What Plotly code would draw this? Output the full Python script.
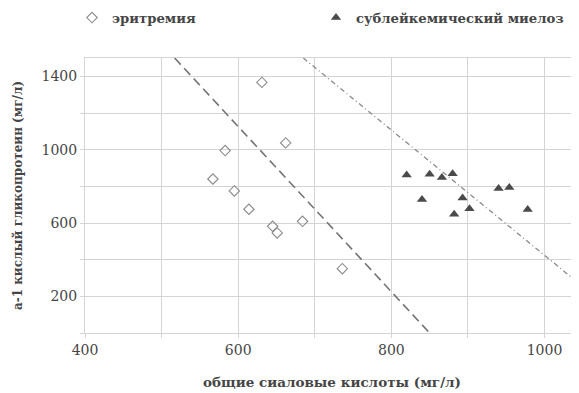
import plotly.graph_objects as go

# эритремия (hollow diamonds)
eryth_x = [567, 583, 595, 614, 631, 645, 651, 662, 684, 736]
eryth_y = [840, 995, 775, 675, 1367, 582, 546, 1037, 609, 351]

# сублейкемический миелоз (filled triangles)
myel_x = [820, 840, 850, 866, 880, 882, 893, 902, 940, 954, 978]
myel_y = [862, 728, 866, 848, 869, 648, 737, 678, 788, 793, 673]

# separating lines
dash_x = [517, 850]
dash_y = [1500, 0]
dashdot_x = [685, 1045]
dashdot_y = [1500, 270]

x_ticks = [400, 600, 800, 1000]
y_ticks = [200, 600, 1000, 1400]

SERIF = "DejaVu Serif, serif"
TXT = "#454545"
GRID = "#d4d4d4"

W, H = 571, 385  # page body adds an 8px offset

fig = go.Figure()
fig.add_trace(go.Scatter(
    x=dash_x, y=dash_y, mode="lines", showlegend=False,
    line=dict(color="#747474", width=1.6, dash="9px,5px"), hoverinfo="skip"))
fig.add_trace(go.Scatter(
    x=dashdot_x, y=dashdot_y, mode="lines", showlegend=False,
    line=dict(color="#8a8a8a", width=1.3, dash="5px,3px,1px,3px"), hoverinfo="skip"))
fig.add_trace(go.Scatter(
    x=eryth_x, y=eryth_y, mode="markers", name="эритремия", legend="legend",
    marker=dict(symbol="diamond-open", size=8, color="#8a8a8a", line=dict(width=1.1, color="#8a8a8a"))))
fig.add_trace(go.Scatter(
    x=myel_x, y=myel_y, mode="markers", name="сублейкемический миелоз", legend="legend2",
    marker=dict(symbol="triangle-up", size=9, color="#4a4a4a")))

leg_font = dict(family=SERIF, size=13.2, color=TXT, weight="bold")
fig.update_layout(
    width=W, height=H,
    margin=dict(l=77, r=0, t=50, b=60, autoexpand=False),
    paper_bgcolor="white", plot_bgcolor="white",
    font=dict(family=SERIF, size=13, color=TXT),
    legend=dict(orientation="h", xref="container", yref="container",
                x=64 / W, y=1 - 10 / H, xanchor="left", yanchor="middle",
                itemwidth=30, font=leg_font, bgcolor="rgba(0,0,0,0)"),
    legend2=dict(orientation="h", xref="container", yref="container",
                 x=308 / W, y=1 - 10 / H, xanchor="left", yanchor="middle",
                 itemwidth=30, font=leg_font, bgcolor="rgba(0,0,0,0)"),
)
fig.update_xaxes(
    range=[400, 1045], tickvals=x_ticks, ticktext=[str(v) for v in x_ticks],
    showgrid=True, gridcolor=GRID, gridwidth=1,
    ticks="outside", ticklen=4, tickcolor=GRID,
    minor=dict(dtick=100, tick0=0, showgrid=True, gridcolor=GRID,
               ticks="outside", ticklen=4, tickcolor=GRID),
    showline=True, linecolor=GRID, mirror=True, zeroline=False,
    automargin=False, tickfont=dict(size=14, color=TXT),
    title=dict(text="общие сиаловые кислоты (мг/л)", standoff=20,
               font=dict(family=SERIF, size=13.5, color=TXT, weight="bold")))
fig.update_yaxes(
    range=[0, 1500], tickvals=y_ticks, ticktext=[str(v) for v in y_ticks],
    showgrid=True, gridcolor=GRID, gridwidth=1,
    ticks="outside", ticklen=4, tickcolor=GRID,
    minor=dict(tickvals=[0, 400, 800, 1200], showgrid=True, gridcolor=GRID,
               ticks="outside", ticklen=4, tickcolor=GRID),
    showline=True, linecolor=GRID, mirror=True, zeroline=False,
    automargin=False, tickfont=dict(size=14, color=TXT),
    title=dict(text="a-1 кислый гликопротеин (мг/л)", standoff=16,
               font=dict(family=SERIF, size=12, color=TXT, weight="bold")))

fig.write_html("out.html")
